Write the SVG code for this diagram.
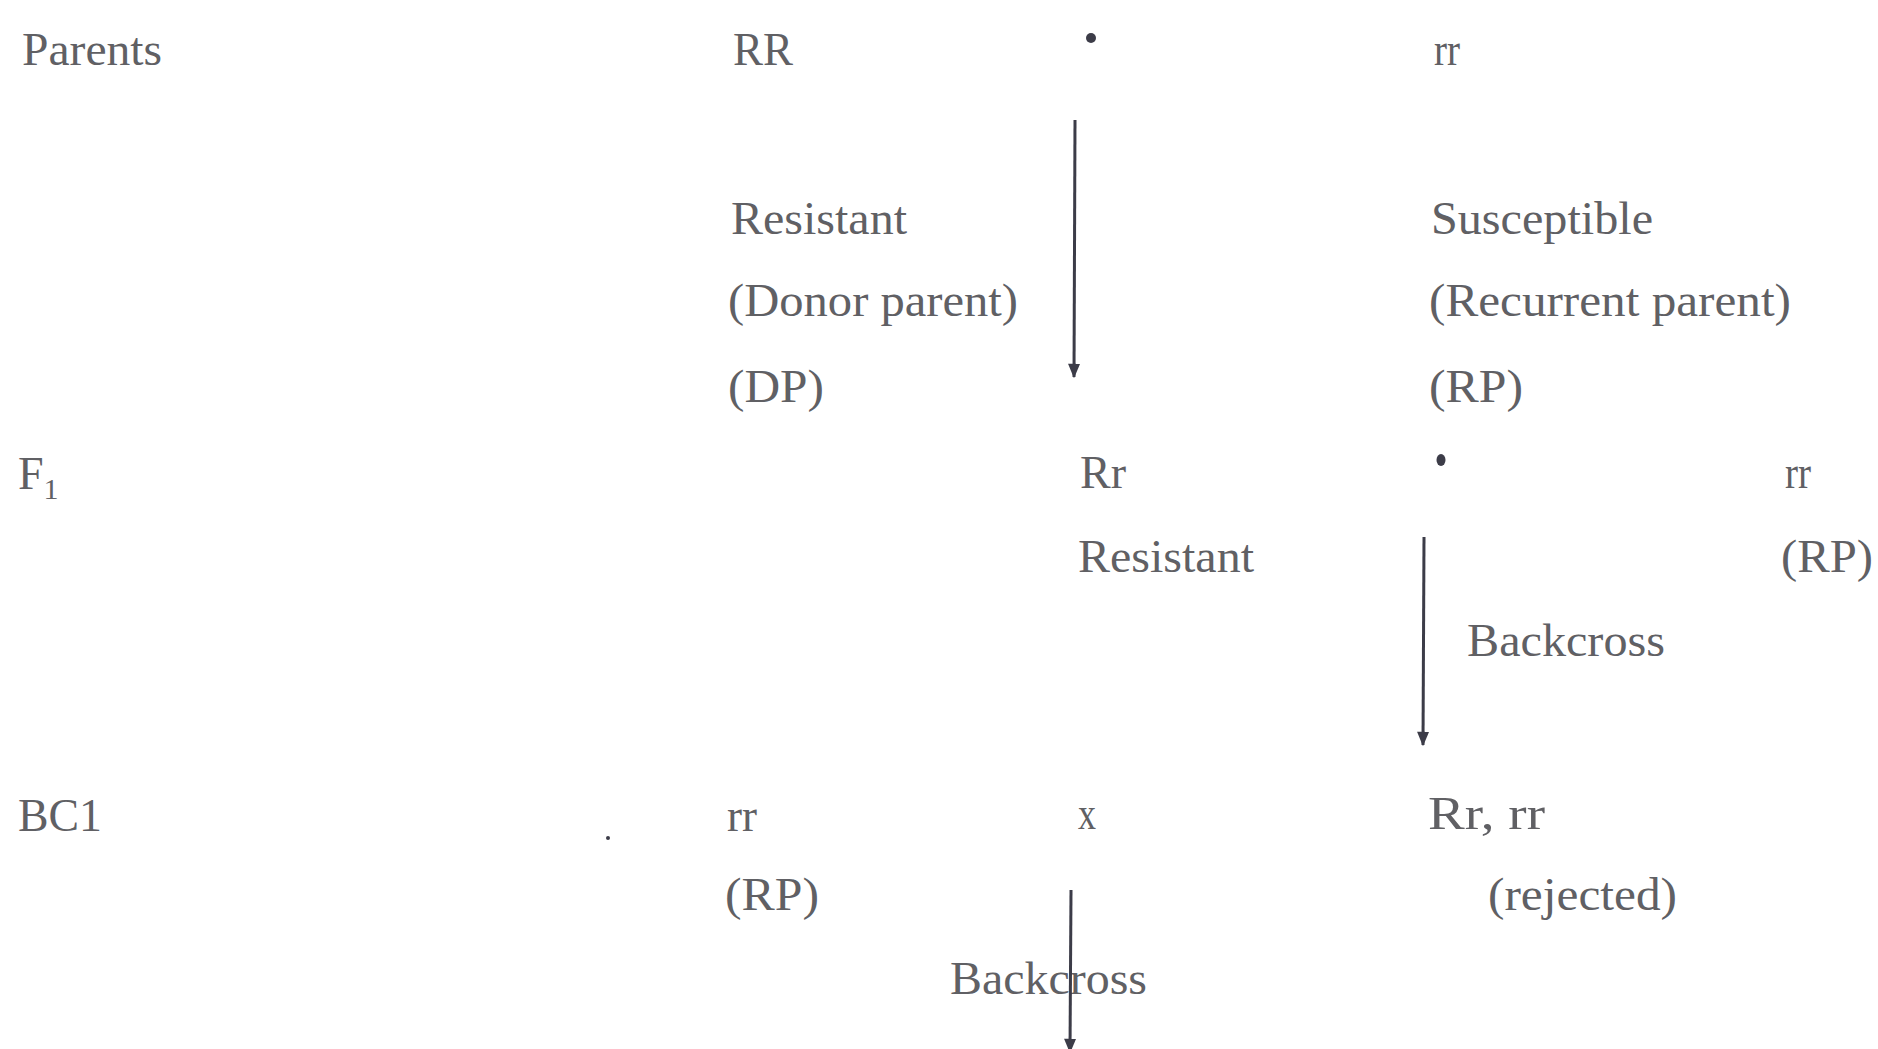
<svg xmlns="http://www.w3.org/2000/svg" width="1878" height="1049" viewBox="0 0 1878 1049">
<defs>
<style>
.t{font-family:"Liberation Serif","Times New Roman",serif;font-size:46px;fill:#606064;}
.c{stroke:#3c3c48;stroke-width:3;fill:none;}
.d{fill:#3c3c48;}
</style>
<marker id="ah" viewBox="0 0 12 10" refX="11" refY="5" markerWidth="5" markerHeight="4" orient="auto" markerUnits="strokeWidth">
<path d="M0,0 L12,5 L0,10 Z" fill="#3c3c48"/>
</marker>
</defs>
<rect width="1878" height="1049" fill="#ffffff"/>
<g id="row-labels">
<text class="t" x="22" y="65" textLength="140" lengthAdjust="spacingAndGlyphs">Parents</text>
<text class="t" x="18" y="489">F<tspan font-size="30" dy="10">1</tspan></text>
<text class="t" x="18" y="831" textLength="84" lengthAdjust="spacingAndGlyphs">BC1</text>
</g>
<g id="node-donor">
<text class="t" x="733" y="65" textLength="60" lengthAdjust="spacingAndGlyphs">RR</text>
<text class="t" x="731" y="234" textLength="176" lengthAdjust="spacingAndGlyphs">Resistant</text>
<text class="t" x="728" y="316" textLength="290" lengthAdjust="spacingAndGlyphs">(Donor parent)</text>
<text class="t" x="728" y="402" textLength="96" lengthAdjust="spacingAndGlyphs">(DP)</text>
</g>
<g id="cross1"><circle class="d" cx="1091" cy="38" r="5"/></g>
<g id="node-recurrent">
<text class="t" x="1434" y="65" textLength="26" lengthAdjust="spacingAndGlyphs">rr</text>
<text class="t" x="1431" y="234" textLength="222" lengthAdjust="spacingAndGlyphs">Susceptible</text>
<text class="t" x="1429" y="316" textLength="362" lengthAdjust="spacingAndGlyphs">(Recurrent parent)</text>
<text class="t" x="1429" y="402" textLength="94" lengthAdjust="spacingAndGlyphs">(RP)</text>
</g>
<g id="node-f1">
<text class="t" x="1080" y="488" textLength="46" lengthAdjust="spacingAndGlyphs">Rr</text>
<text class="t" x="1078" y="572" textLength="176" lengthAdjust="spacingAndGlyphs">Resistant</text>
</g>
<g id="cross2"><ellipse class="d" cx="1441" cy="460" rx="4.5" ry="6"/></g>
<g id="node-rp2">
<text class="t" x="1785" y="488" textLength="26" lengthAdjust="spacingAndGlyphs">rr</text>
<text class="t" x="1781" y="572" textLength="92" lengthAdjust="spacingAndGlyphs">(RP)</text>
</g>
<g id="node-bc1-rp">
<text class="t" x="727" y="831" textLength="30" lengthAdjust="spacingAndGlyphs">rr</text>
<text class="t" x="725" y="910" textLength="94" lengthAdjust="spacingAndGlyphs">(RP)</text>
</g>
<g id="cross3">
<circle class="d" cx="608" cy="838" r="2"/>
<text class="t" x="1078" y="829" textLength="18" lengthAdjust="spacingAndGlyphs">x</text>
</g>
<g id="node-bc1">
<text class="t" x="1428" y="829" textLength="117" lengthAdjust="spacingAndGlyphs">Rr, rr</text>
<text class="t" x="1488" y="910" textLength="189" lengthAdjust="spacingAndGlyphs">(rejected)</text>
</g>
<g id="connectors">
<line class="c" x1="1075" y1="120" x2="1074" y2="377" marker-end="url(#ah)"/>
<line class="c" x1="1424" y1="537" x2="1423" y2="745" marker-end="url(#ah)"/>
<text class="t" x="1467" y="656" textLength="198" lengthAdjust="spacingAndGlyphs">Backcross</text>
<text class="t" x="950" y="994" textLength="197" lengthAdjust="spacingAndGlyphs">Backcross</text>
<line class="c" x1="1071" y1="890" x2="1070" y2="1052" marker-end="url(#ah)"/>
</g>
</svg>
